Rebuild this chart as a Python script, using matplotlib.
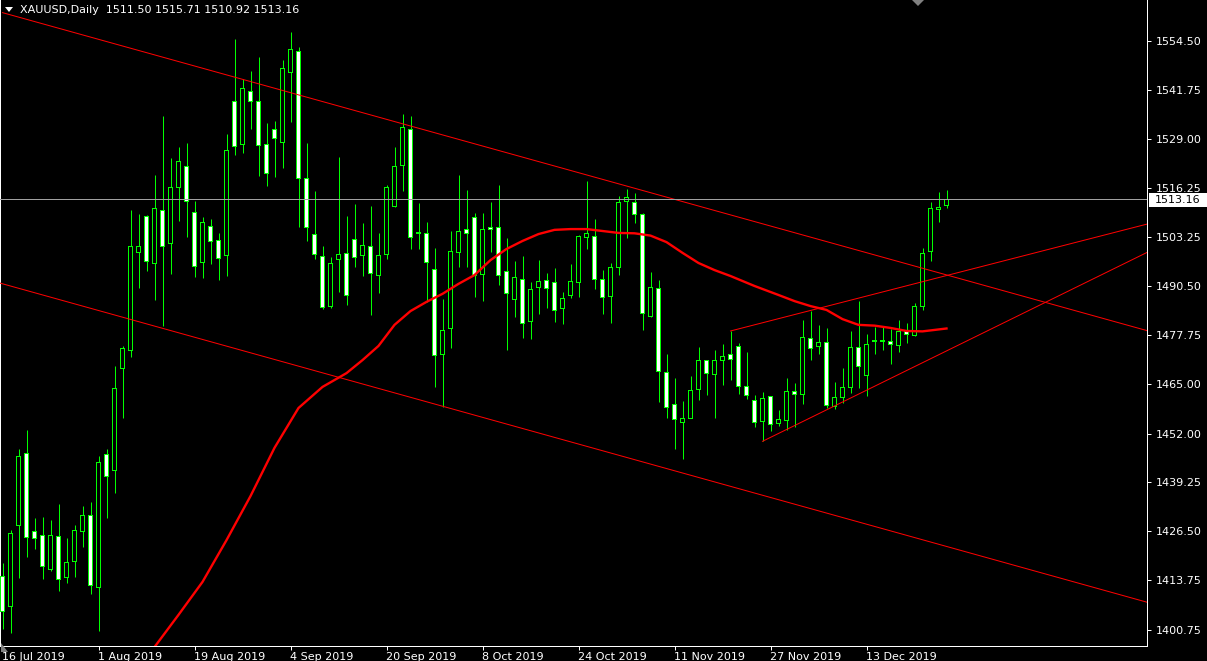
import matplotlib
matplotlib.use('Agg')
import matplotlib.pyplot as plt
from matplotlib.patches import Rectangle, Polygon

# ---------------- data ----------------
opens = [1414.7, 1406.9, 1428.1, 1446.9, 1426.5, 1425.5, 1416.5, 1425.2, 1414.5, 1418.7,
         1426.5, 1430.7, 1411.9, 1446.6, 1442.4, 1469.0, 1473.8, 1499.2, 1508.7, 1496.5,
         1510.3, 1501.7, 1516.3, 1521.8, 1509.8, 1496.7, 1506.1, 1502.5, 1498.6, 1538.8,
         1527.5, 1541.4, 1538.8, 1527.5, 1531.5, 1528.1, 1546.3, 1551.8, 1518.7, 1504.0,
         1498.3, 1485.1, 1497.5, 1499.1, 1502.7, 1498.6, 1500.9, 1493.3, 1498.8, 1511.35,
         1522.05, 1531.5, 1504.5, 1504.3, 1494.9, 1472.7, 1479.5, 1499.3, 1505.2, 1508.5,
         1493.6, 1505.9, 1505.9, 1494.4, 1487.1, 1492.3, 1481.3, 1490.2, 1492.0, 1491.5,
         1484.7, 1488.1, 1491.5, 1503.3, 1503.5, 1492.3, 1487.75, 1495.3, 1512.65, 1512.4,
         1509.3, 1482.5, 1489.9, 1468.0, 1459.7, 1455.0, 1456.0, 1463.6, 1471.15, 1467.5,
         1471.15, 1472.7, 1474.8, 1464.3, 1460.7, 1455.2, 1461.75, 1454.7, 1455.5, 1463.05,
         1462.3, 1476.9, 1474.8, 1475.85, 1459.0, 1461.5, 1464.1, 1474.55, 1467.2, 1476.0,
         1476.0, 1476.1, 1475.05, 1478.7, 1477.7, 1485.25, 1499.6, 1510.6, 1511.50]
highs = [1418.2, 1426.85, 1448.0, 1453.0, 1430.0, 1430.25, 1429.5, 1433.6, 1424.8, 1428.2,
         1433.1, 1434.2, 1446.2, 1448.0, 1469.7, 1474.9, 1510.4, 1509.3, 1509.0, 1519.5,
         1534.9, 1523.9, 1526.8, 1527.9, 1512.7, 1508.6, 1508.0, 1504.4, 1530.2, 1555.0,
         1544.6, 1546.7, 1550.3, 1533.1, 1533.5, 1549.5, 1556.9, 1552.9, 1527.9, 1515.3,
         1500.9, 1498.0, 1524.2, 1508.8, 1512.0, 1507.0, 1511.4, 1504.3, 1516.8, 1526.8,
         1535.4, 1534.9, 1512.1, 1507.2, 1500.4, 1487.15, 1504.9, 1519.5, 1515.6, 1509.5,
         1509.6, 1512.5, 1516.9, 1503.0, 1497.1, 1498.4, 1491.5, 1497.3, 1493.9, 1495.2,
         1489.0, 1496.3, 1503.9, 1518.0, 1508.0, 1494.6, 1496.5, 1514.0, 1515.9, 1514.8,
         1509.5, 1494.2, 1492.1, 1472.8, 1466.45, 1460.45, 1467.05, 1474.55, 1471.2, 1473.8,
         1475.3, 1478.7, 1475.6, 1473.2, 1462.0, 1462.8, 1461.8, 1458.1, 1466.45, 1465.15,
         1481.6, 1483.9, 1480.4, 1479.6, 1465.5, 1469.1, 1478.8, 1486.6, 1478.0, 1479.8,
         1479.8, 1479.3, 1481.6, 1480.8, 1486.1, 1500.4, 1512.4, 1515.1, 1515.71]
lows = [1400.9, 1400.05, 1414.4, 1419.9, 1422.0, 1414.1, 1416.15, 1411.0, 1413.1, 1414.7,
        1422.3, 1410.2, 1400.6, 1430.1, 1436.6, 1456.2, 1472.1, 1489.9, 1494.5, 1486.9,
        1480.1, 1493.8, 1507.6, 1503.4, 1493.0, 1492.7, 1496.4, 1492.2, 1493.2, 1524.8,
        1525.3, 1531.6, 1519.3, 1516.7, 1519.1, 1521.4, 1533.4, 1506.0, 1502.4, 1497.5,
        1484.5, 1484.7, 1489.1, 1485.7, 1495.6, 1493.2, 1483.1, 1488.8, 1497.7, 1511.25,
        1515.4, 1500.3, 1500.1, 1486.45, 1464.3, 1459.0, 1474.4, 1495.6, 1495.6, 1487.75,
        1486.7, 1499.5, 1490.8, 1473.8, 1482.5, 1477.05, 1476.8, 1483.3, 1484.7, 1481.2,
        1480.7, 1487.3, 1487.75, 1500.2, 1489.8, 1483.3, 1481.0, 1493.5, 1503.15, 1506.9,
        1479.1, 1482.5, 1460.3, 1456.2, 1448.1, 1445.5, 1456.0, 1460.9, 1462.2, 1456.2,
        1464.6, 1465.9, 1462.3, 1461.1, 1453.8, 1450.0, 1452.6, 1453.9, 1452.9, 1453.7,
        1459.7, 1471.3, 1472.7, 1458.6, 1458.5, 1459.9, 1462.5, 1463.8, 1461.75, 1472.9,
        1473.9, 1470.3, 1473.2, 1475.6, 1477.4, 1484.2, 1497.15, 1507.2, 1510.92]
closes = [1405.7, 1426.0, 1446.1, 1424.95, 1424.7, 1417.4, 1425.5, 1413.9, 1418.4, 1426.8,
          1430.7, 1412.4, 1444.5, 1440.9, 1463.8, 1474.3, 1500.9, 1500.9, 1497.0, 1510.8,
          1500.9, 1516.3, 1523.1, 1512.7, 1495.7, 1507.2, 1502.2, 1497.8, 1526.0, 1527.0,
          1542.2, 1538.8, 1527.3, 1520.0, 1529.1, 1547.4, 1552.3, 1518.7, 1505.9, 1498.8,
          1485.0, 1496.5, 1498.8, 1488.1, 1498.0, 1501.2, 1493.9, 1498.6, 1516.3, 1521.8,
          1532.0, 1503.3, 1504.2, 1496.7, 1472.45, 1479.0, 1499.6, 1504.8, 1504.3, 1493.2,
          1505.35, 1505.35, 1493.3, 1488.6, 1492.8, 1480.8, 1489.7, 1491.8, 1489.9, 1484.2,
          1487.3, 1491.8, 1503.5, 1504.3, 1492.3, 1487.6, 1495.4, 1512.4, 1513.7, 1509.3,
          1483.4, 1490.2, 1468.2, 1458.9, 1455.75, 1456.0, 1463.3, 1471.15, 1467.75, 1471.15,
          1472.2, 1471.4, 1464.4, 1462.0, 1455.0, 1461.2, 1454.4, 1455.75, 1463.05, 1462.3,
          1477.15, 1474.3, 1475.85, 1459.4, 1461.5, 1464.1, 1474.55, 1469.6, 1475.3, 1476.2,
          1476.2, 1475.3, 1478.7, 1477.9, 1485.25, 1499.1, 1510.8, 1511.0, 1513.16]

# moving average (bar index, value)
ma_idx = [18, 19, 22, 25, 28, 31, 34, 37, 40, 43, 45, 47, 49, 51, 53, 55, 57, 59, 61, 63,
          65, 67, 69, 71, 73, 75, 77, 79, 81, 83, 85, 87, 89, 91, 94, 97, 99, 101, 103,
          105, 107, 109, 111, 113, 115, 118]
ma_val = [1393.5, 1396.3, 1404.7, 1413.3, 1424.2, 1435.7, 1448.3, 1458.7, 1464.2, 1467.8,
          1471.2, 1474.9, 1480.4, 1484.0, 1486.4, 1488.5, 1491.1, 1493.4, 1497.3, 1500.2,
          1502.3, 1504.1, 1505.2, 1505.4, 1505.4, 1504.9, 1504.4, 1504.3, 1503.7, 1502.0,
          1499.2, 1496.55, 1494.7, 1493.15, 1490.55, 1488.2, 1486.6, 1485.3, 1484.3,
          1481.9, 1480.4, 1480.2, 1479.6, 1478.8, 1478.7, 1479.45]

# trend lines: (start bar, start price, end bar, end price)
trend_lines = [
    (0.0, 1561.9, 143.06, 1478.9),
    (-0.31, 1491.3, 143.06, 1408.0),
    (91.0, 1478.8, 143.06, 1506.7),
    (95.0, 1450.0, 143.06, 1499.3),
]

bid_price = 1513.16
y_ticks = [1554.50, 1541.75, 1529.00, 1516.25, 1503.25, 1490.50, 1477.75,
           1465.00, 1452.00, 1439.25, 1426.50, 1413.75, 1400.75]
x_tick_idx = [0, 12, 24, 36, 48, 60, 72, 84, 96, 108]
x_tick_lbl = ['16 Jul 2019', '1 Aug 2019', '19 Aug 2019', '4 Sep 2019', '20 Sep 2019',
              '8 Oct 2019', '24 Oct 2019', '11 Nov 2019', '27 Nov 2019', '13 Dec 2019']
title = 'XAUUSD,Daily  1511.50 1515.71 1510.92 1513.16'

# ---------------- figure ----------------
W, H = 1207, 661
LIME = '#00ff00'
RED = '#ff0000'
fig = plt.figure(figsize=(W / 100, H / 100), dpi=100, facecolor='black')
ax = fig.add_axes([0, 15 / H, 1147 / W, 646 / H], facecolor='black')
ax.set_xlim(-0.3125, 143.0625)
ax.set_ylim(1396.57, 1565.2)

px = 0.72          # one pixel in points
bar_px = 8.0       # pixels per bar
unit_px = 646 / (1565.2 - 1396.57)   # pixels per price unit
outer_w = 5 / bar_px
inner_w = 3 / bar_px
edge_p = 1 / unit_px

for i, (o, h, l, c) in enumerate(zip(opens, highs, lows, closes)):
    ax.plot([i, i], [l, h], color=LIME, lw=px, zorder=2, solid_capstyle='butt')
    bear = c < o
    lo, hi = min(o, c), max(o, c)
    ax.add_patch(Rectangle((i - outer_w / 2, lo - edge_p / 2), outer_w, hi - lo + edge_p,
                           facecolor=LIME, lw=0, zorder=3, antialiased=False))
    ih = hi - lo - edge_p
    if ih > 0:
        ax.add_patch(Rectangle((i - inner_w / 2, lo + edge_p / 2), inner_w, ih,
                               facecolor='white' if bear else 'black', lw=0, zorder=3.5,
                               antialiased=False))

ax.plot(ma_idx, ma_val, color=RED, lw=1.7, zorder=5, solid_joinstyle='round')
for x0, y0, x1, y1 in trend_lines:
    ax.plot([x0, x1], [y0, y1], color=RED, lw=px, zorder=4)

ax.axhline(bid_price, color='#a0a0a0', lw=px, zorder=6)

# axes styling
for s in ['left', 'right', 'bottom']:
    ax.spines[s].set_color('white')
    ax.spines[s].set_linewidth(px)
ax.spines['top'].set_visible(False)
ax.yaxis.tick_right()
ax.set_yticks(y_ticks)
ax.set_yticklabels(['%.2f' % v for v in y_ticks])
ax.set_xticks(x_tick_idx)
ax.set_xticklabels(x_tick_lbl, ha='left')
ax.tick_params(axis='both', colors='white', labelcolor='white', labelsize=8,
               length=3, width=px, direction='out')
ax.tick_params(axis='y', pad=3)
ax.tick_params(axis='x', pad=1.2)

def fpt(x, y):
    return (x / W, 1 - y / H)

# current price label on axis
fig.add_artist(Rectangle(fpt(1149, 207), 58 / W, 14 / H, facecolor='white',
                         edgecolor='none', transform=fig.transFigure, zorder=10))
fig.text(*fpt(1155, 200), '%.2f' % bid_price, color='black', fontsize=8,
         va='center', ha='left', zorder=11)

# title
fig.text(*fpt(20, 10), title, color='white', fontsize=8, va='center', ha='left')
fig.add_artist(Polygon([fpt(5, 7), fpt(13, 7), fpt(9, 12)], closed=True,
                       facecolor='white', edgecolor='none', transform=fig.transFigure))
# shift markers
fig.add_artist(Polygon([fpt(912, 0), fpt(924, 0), fpt(918, 6)], closed=True,
                       facecolor='#808080', edgecolor='none', transform=fig.transFigure))
fig.add_artist(Polygon([fpt(1, 643), fpt(1, 652), fpt(8, 652)], closed=True,
                       facecolor='#808080', edgecolor='none', transform=fig.transFigure))

fig.savefig('out.png', dpi=100, facecolor='black')
